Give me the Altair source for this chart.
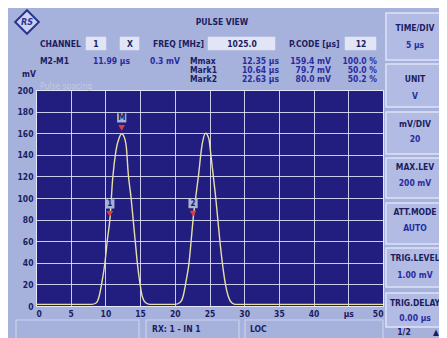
import altair as alt
import pandas as pd

# ---------------- data ----------------
time_us = [0, 2, 4, 6, 8.0, 8.7, 9.1, 9.5, 9.95, 10.3, 10.64, 11.05, 11.5, 12.0, 12.35,
           12.6, 13.0, 13.3, 13.7, 14.0, 14.3, 14.6, 15.0, 15.3, 15.8, 16.4, 18.0,
           20.0, 20.7, 21.2, 21.6, 22.05, 22.35, 22.63, 23.0, 23.4, 23.9, 24.45, 24.9,
           25.2, 25.55, 25.9, 26.2, 26.5, 26.85, 27.3, 27.7, 28.2, 28.7, 31, 35, 40, 45, 50]
level_mv = [1.5, 1.5, 1.5, 1.5, 1.5, 3, 9, 22, 41, 62, 79.7, 118, 143, 156, 159.4,
            158, 148, 122, 100, 80, 60, 40, 20, 9, 3, 1.5, 1.5,
            1.5, 3, 9, 22, 40, 60, 80.0, 100, 120, 148, 160, 155,
            140, 120, 100, 80, 60, 40, 20, 9, 3, 1.5, 1.5, 1.5, 1.5, 1.5, 1.5]

marker_names = ["1", "2", "M"]
marker_time = [10.64, 22.63, 12.35]
marker_level = [79.7, 80.0, 159.4]

x_ticks = [0, 5, 10, 15, 20, 25, 30, 35, 40, 45, 50]
y_ticks = [0, 20, 40, 60, 80, 100, 120, 140, 160, 180, 200]

# ---------------- layout (page pixels) ----------------
PLOT_X, PLOT_Y = 36, 90          # page position of plot origin
W, H = 347, 216
TOTAL_W, TOTAL_H = 431, 330
FONT = "Liberation Sans Narrow, DejaVu Sans Condensed, sans-serif"
BG = "#a7b2dc"
PLOT_BG = "#221e80"
DARK = "#1b1d5e"
BLUE = "#2a2c9e"

trace = pd.DataFrame({"t": time_us, "v": level_mv})
markers = pd.DataFrame({"name": marker_names, "t": marker_time, "v": marker_level})

def rel(rows):
    out = []
    for r in rows:
        d = dict(r)
        for k in ("x", "x2"):
            if k in d:
                d[k] = d[k] - PLOT_X
        for k in ("y", "y2"):
            if k in d:
                d[k] = d[k] - PLOT_Y
        out.append(d)
    return pd.DataFrame(out)

PX = lambda f: alt.X(f + ":Q", scale=None, axis=None)
PY = lambda f: alt.Y(f + ":Q", scale=None, axis=None)

# boxes
buttons = [(13, 60), (64, 107), (112, 154), (158, 198), (203, 244), (248, 287), (293, 327)]
button_rects = rel([{"x": 386, "x2": 450, "y": a, "y2": b} for a, b in buttons])
input_rects = rel([{"x": 86, "x2": 106, "y": 37, "y2": 50},
                   {"x": 120, "x2": 139, "y": 37, "y2": 50},
                   {"x": 208, "x2": 275, "y": 37, "y2": 50},
                   {"x": 345, "x2": 376, "y": 37, "y2": 50}])
status_rects = rel([{"x": 16, "x2": 139, "y": 320, "y2": 340},
                    {"x": 146, "x2": 239, "y": 320, "y2": 340},
                    {"x": 245, "x2": 383, "y": 320, "y2": 340}])

left_dark = rel([
    {"label": "CHANNEL", "x": 40, "y": 44},
    {"label": "FREQ [MHz]", "x": 153, "y": 44},
    {"label": "P.CODE [µs]", "x": 289, "y": 44},
    {"label": "M2-M1", "x": 40, "y": 61},
    {"label": "Mmax", "x": 190, "y": 61},
    {"label": "Mark1", "x": 190, "y": 70},
    {"label": "Mark2", "x": 190, "y": 79},
    {"label": "mV", "x": 22, "y": 74},
    {"label": "RX: 1 - IN 1", "x": 152, "y": 329},
    {"label": "LOC", "x": 250, "y": 329},
])
right_blue = rel([
    {"label": "11.99 µs", "x": 130, "y": 61},
    {"label": "0.3 mV", "x": 180, "y": 61},
    {"label": "12.35 µs", "x": 279, "y": 61},
    {"label": "159.4 mV", "x": 331, "y": 61},
    {"label": "100.0 %", "x": 377, "y": 61},
    {"label": "10.64 µs", "x": 279, "y": 70},
    {"label": "79.7 mV", "x": 331, "y": 70},
    {"label": "50.0 %", "x": 377, "y": 70},
    {"label": "22.63 µs", "x": 279, "y": 79},
    {"label": "80.0 mV", "x": 331, "y": 79},
    {"label": "50.2 %", "x": 377, "y": 79},
])
center_dark = rel([
    {"label": "PULSE VIEW", "x": 222, "y": 22},
    {"label": "1", "x": 96, "y": 44},
    {"label": "X", "x": 130, "y": 44},
    {"label": "1025.0", "x": 242, "y": 44},
    {"label": "12", "x": 361, "y": 44},
    {"label": "TIME/DIV", "x": 415, "y": 28},
    {"label": "UNIT", "x": 415, "y": 79},
    {"label": "mV/DIV", "x": 415, "y": 124},
    {"label": "MAX.LEV", "x": 415, "y": 167},
    {"label": "ATT.MODE", "x": 415, "y": 212},
    {"label": "TRIG.LEVEL", "x": 415, "y": 258},
    {"label": "TRIG.DELAY", "x": 415, "y": 303},
    {"label": "1/2", "x": 404, "y": 332},
    {"label": "▲", "x": 436, "y": 332},
])
center_blue = rel([
    {"label": "5 µs", "x": 415, "y": 45},
    {"label": "V", "x": 415, "y": 96},
    {"label": "20", "x": 415, "y": 139},
    {"label": "200 mV", "x": 415, "y": 183},
    {"label": "AUTO", "x": 415, "y": 228},
    {"label": "1.00 mV", "x": 415, "y": 275},
    {"label": "0.00 µs", "x": 415, "y": 318},
])
faint = rel([{"label": "Pulse spacing", "x": 40, "y": 86}])
logo = rel([{"x": 27, "y": 22}])

# ---------------- chart ----------------
xs = alt.Scale(domain=[0, 50], nice=False, zero=False)
ys = alt.Scale(domain=[0, 200], nice=False)

axis_common = dict(grid=True, gridColor="#e8eaff", gridOpacity=0.85, gridWidth=1,
                   domain=False, ticks=False, labelPadding=3, labelOverlap=False,
                   labelFont=FONT, labelFontSize=8.5, labelColor=DARK, labelFontWeight="bold")

line = alt.Chart(trace).mark_line(color="#e6dfa6", strokeWidth=1.4, interpolate="monotone").encode(
    x=alt.X("t:Q", scale=xs, title=None,
            axis=alt.Axis(values=x_ticks, tickCount=11,
                          labelExpr="datum.value == 45 ? 'µs' : datum.label", **axis_common)),
    y=alt.Y("v:Q", scale=ys, title=None,
            axis=alt.Axis(values=y_ticks, tickCount=11, **axis_common)),
)

tri = alt.Chart(markers).mark_point(shape="triangle-down", filled=True, color="#e8383a",
                                    size=45, opacity=1, yOffset=-6).encode(
    x=alt.X("t:Q", scale=xs), y=alt.Y("v:Q", scale=ys))
tag = alt.Chart(markers).mark_square(color="#a9b2d4", size=85, opacity=1, yOffset=-16).encode(
    x=alt.X("t:Q", scale=xs), y=alt.Y("v:Q", scale=ys))
tag_txt = alt.Chart(markers).mark_text(font=FONT, fontSize=8, fontWeight="bold", color=DARK,
                                       yOffset=-16).encode(
    x=alt.X("t:Q", scale=xs), y=alt.Y("v:Q", scale=ys), text="name:N")

def rects(df, fill, stroke, sw):
    return alt.Chart(df).mark_rect(fill=fill, stroke=stroke, strokeWidth=sw).encode(
        x=PX("x"), x2="x2:Q", y=PY("y"), y2="y2:Q")

def texts(df, align, color, size=8.5, weight="bold"):
    return alt.Chart(df).mark_text(align=align, baseline="middle", font=FONT, fontSize=size,
                                   fontWeight=weight, color=color).encode(
        x=PX("x"), y=PY("y"), text="label:N")

logo_pt = alt.Chart(logo).mark_point(shape="diamond", filled=True, fill="#ccd3f2", stroke="#2b3590",
                                     strokeWidth=2, size=560, opacity=1).encode(x=PX("x"), y=PY("y"))
logo_in = alt.Chart(logo).mark_text(text="RS", font=FONT, fontSize=9, fontWeight="bold",
                                    fontStyle="italic", color="#2b3590").encode(x=PX("x"), y=PY("y"))

overlay = alt.layer(
    rects(button_rects, "#b1bbe4", "#dfe4f8", 1.5),
    rects(input_rects, "#e1e5f5", "#e1e5f5", 0.5),
    rects(status_rects, BG, "#cbd2ef", 1.2),
    texts(left_dark, "left", DARK),
    texts(right_blue, "right", BLUE),
    texts(center_dark, "center", DARK),
    texts(center_blue, "center", BLUE),
    texts(faint, "left", "#c3c8e4", 8.5, "normal"),
    logo_pt, logo_in,
)

main = alt.layer(line, tri, tag, tag_txt)

chart = alt.layer(main, overlay).resolve_scale(x="independent", y="independent").properties(
    width=W, height=H,
    autosize=alt.AutoSizeParams(type="none"),
    padding={"left": PLOT_X - 8, "top": PLOT_Y - 8, "right": TOTAL_W - (PLOT_X - 8) - W,
             "bottom": TOTAL_H - (PLOT_Y - 8) - H},
).configure(background=BG).configure_view(fill=PLOT_BG, stroke="#c8cdf0", strokeWidth=1)

chart.save("out.html", embed_options={"renderer": "svg", "actions": False})
